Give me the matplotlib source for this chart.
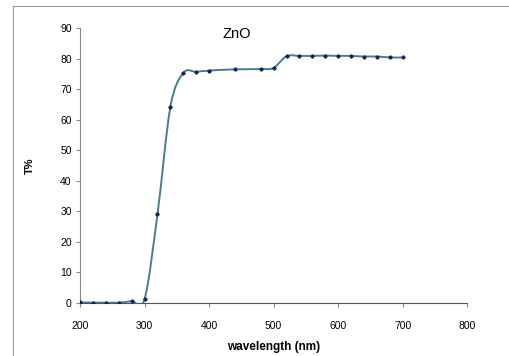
import numpy as np
import matplotlib
matplotlib.use('Agg')
import matplotlib.pyplot as plt
from matplotlib.path import Path
from matplotlib.patches import PathPatch
from matplotlib.lines import Line2D

# transmittance data
wavelength = [200, 220, 240, 260, 280, 300, 320, 340, 360, 380, 400, 440,
              480, 500, 520, 540, 560, 580, 600, 620, 640, 660, 680, 700]
transmit = [0.2, 0.1, 0.1, 0.1, 0.6, 1.3, 29.1, 64.2, 75.3, 75.7, 76.1, 76.5,
            76.6, 77.0, 80.8, 80.9, 80.9, 81.0, 80.9, 80.9, 80.7, 80.7, 80.4, 80.4]

plt.rcParams['font.family'] = ['Liberation Sans', 'DejaVu Sans']

fig = plt.figure(figsize=(5.1, 3.56), dpi=100)
ax = fig.add_axes([0.157, 0.149, 0.759, 0.772])

# Excel-style smoothed line: cubic bezier with control points at 1/6 tangent
x = np.array(wavelength, dtype=float)
y = np.array(transmit, dtype=float)
verts = [(x[0], y[0])]
codes = [Path.MOVETO]
n = len(x)
for i in range(n - 1):
    x0, y0 = (x[i - 1], y[i - 1]) if i > 0 else (x[i], y[i])
    x3, y3 = (x[i + 2], y[i + 2]) if i + 2 < n else (x[i + 1], y[i + 1])
    c1 = (x[i] + (x[i + 1] - x0) / 6, y[i] + (y[i + 1] - y0) / 6)
    c2 = (x[i + 1] - (x3 - x[i]) / 6, y[i + 1] - (y3 - y[i]) / 6)
    verts += [c1, c2, (x[i + 1], y[i + 1])]
    codes += [Path.CURVE4] * 3
ax.add_patch(PathPatch(Path(verts, codes), facecolor='none',
                       edgecolor='#4a7d8c', lw=1.4, zorder=2))
ax.plot(wavelength, transmit, linestyle='none', marker='D', ms=1.7,
        color='#1a1f5c', zorder=3)

ax.set_xlim(200, 800)
ax.set_ylim(0, 90)
ax.set_xticks(range(200, 801, 100))
ax.set_yticks(range(0, 91, 10))
for s in ['top', 'right']:
    ax.spines[s].set_visible(False)
ax.spines['left'].set_color('#8c8c8c')
ax.spines['bottom'].set_color('#555555')
ax.tick_params(axis='both', labelsize=7.5, direction='out', length=3,
               color='#8c8c8c', pad=3)
ax.tick_params(axis='x', pad=10)

ax.set_xlabel('wavelength (nm)', fontsize=8.5, fontweight='bold', labelpad=7)
ax.set_ylabel('T%', fontsize=8, fontweight='bold', labelpad=18)
ax.text(0.406, 0.98, 'ZnO', transform=ax.transAxes, fontsize=10.5,
        ha='center', va='center')

# outer chart frame
fig.add_artist(Line2D([13 / 510, 13 / 510], [0, 1 - 6 / 356],
                      color='#9a9a9a', lw=0.8))
fig.add_artist(Line2D([13 / 510, 1], [1 - 6 / 356, 1 - 6 / 356],
                      color='#9a9a9a', lw=0.8))

fig.savefig('out.png', dpi=100)
